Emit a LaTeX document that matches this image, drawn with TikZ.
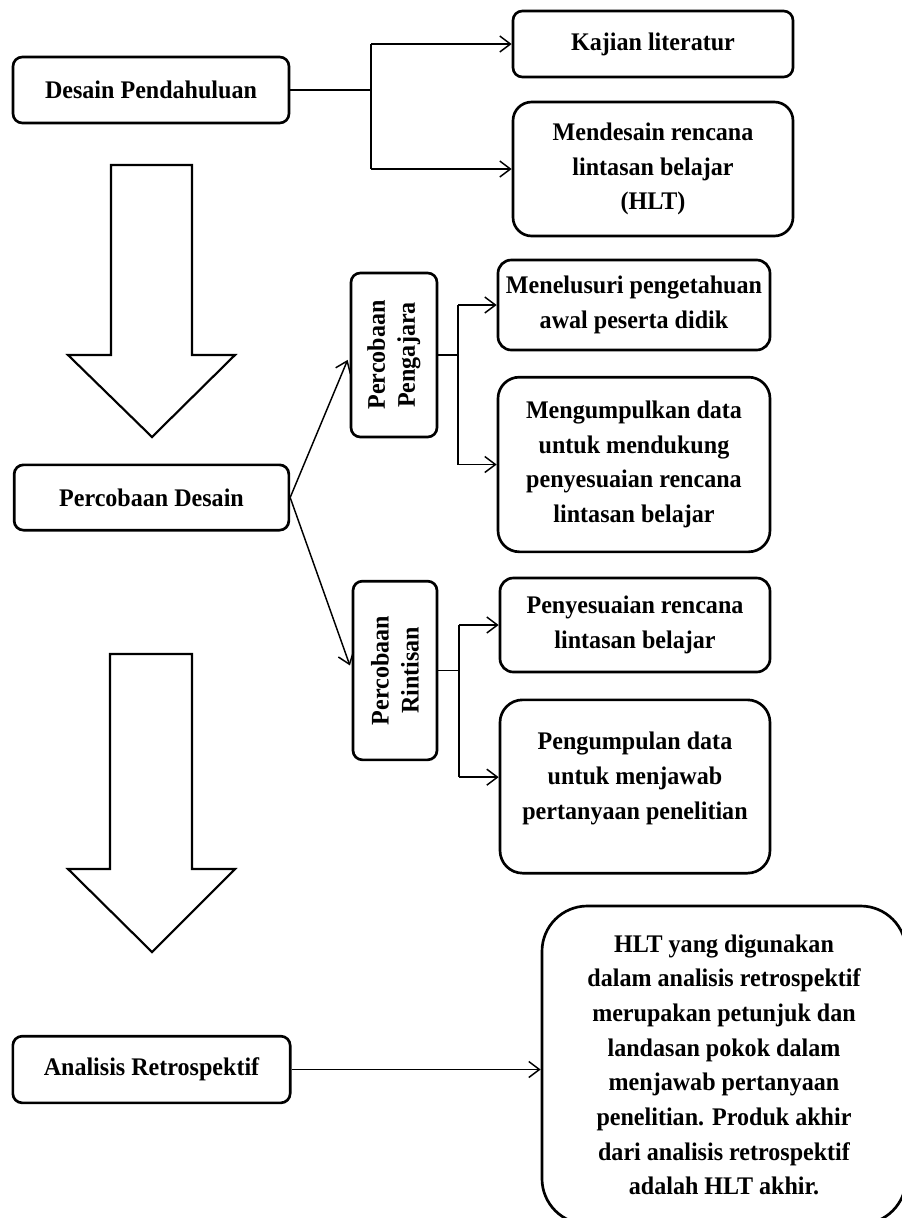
\documentclass[tikz,border=0pt]{standalone}
\usepackage{fontspec}
\setmainfont{Liberation Serif}[FakeStretch=0.95]
\usetikzlibrary{arrows.meta}
\begin{document}
\begin{tikzpicture}[x=0.75pt,y=-0.75pt,
 box/.style={draw, line width=2pt, rounded corners=7pt, align=center, inner sep=0pt,
   font=\fontsize{19}{26}\selectfont\bfseries},
 vbox/.style={box, rotate=90, font=\fontsize{19}{22.5}\selectfont\bfseries},
 conn/.style={line width=1.1pt},
 arr/.style={conn, -{Straight Barb[length=8pt,width=12pt,line width=1.1pt]}},
 bigarrow/.style={draw, line width=1.6pt, line join=miter, fill=white}]
\useasboundingbox (0,0) rectangle (901,1218);

% big hollow arrows
\draw[bigarrow] (111,165) -- (192,165) -- (192,355) -- (235,355) -- (152,437) -- (68,355) -- (111,355) -- cycle;
\draw[bigarrow] (110,654) -- (192,654) -- (192,869) -- (235,869) -- (152,952) -- (68,869) -- (110,869) -- cycle;

% left column
\node[box, minimum width=207pt, minimum height=49.5pt] (dp) at (151,90) {Desain Pendahuluan};
\node[box, minimum width=206pt, minimum height=49pt] (pd) at (151.5,497.5) {Percobaan Desain};
\node[box, minimum width=208pt, minimum height=50pt] (an) at (151.5,1069.5) {Analisis Retrospektif};

% top right
\node[box, minimum width=210pt, minimum height=49.5pt] (kl) at (653,44) {Kajian literatur};
\node[box, rounded corners=14pt, minimum width=210pt, minimum height=100.5pt] (md) at (653,169) {Mendesain rencana\\lintasan belajar\\(HLT)};

% vertical boxes
\node[vbox, minimum width=123pt, minimum height=64.5pt] (pp) at (394,355) {Percobaan\\Pengajara};
\node[vbox, minimum width=134pt, minimum height=63pt] (pr) at (395,670.5) {Percobaan\\Rintisan};

% middle right
\node[box, rounded corners=10pt, minimum width=204pt, minimum height=67.5pt] (mn) at (634,305) {Menelusuri pengetahuan\\awal peserta didik};
\node[box, rounded corners=16pt, minimum width=204pt, minimum height=131pt] (mg) at (634,464.5) {Mengumpulkan data\\untuk mendukung\\penyesuaian rencana\\lintasan belajar};
\node[box, rounded corners=10pt, minimum width=202.5pt, minimum height=70.5pt] (ps) at (635,625) {Penyesuaian rencana\\lintasan belajar};
\node[box, rounded corners=17pt, minimum width=202.5pt, minimum height=130pt] (pg) at (635,786.5) {Pengumpulan data\\untuk menjawab\\pertanyaan penelitian\\[-10pt]\mbox{}};

% bottom right
\node[box, rounded corners=34pt, minimum width=273pt, minimum height=238.5pt] (hlt) at (724,1065) {HLT yang digunakan\\dalam analisis retrospektif\\merupakan petunjuk dan\\landasan pokok dalam\\menjawab pertanyaan\\penelitian. Produk akhir\\dari analisis retrospektif\\adalah HLT akhir.};

% fork coordinates
\coordinate (f1) at (371,90);
\coordinate (f2) at (458,355);
\coordinate (f3) at (459,670.5);
\coordinate (pgin) at ([yshift=7pt]pg.west);

% connectors: Desain Pendahuluan
\draw[conn] (dp.east) -- (f1);
\draw[conn] (f1 |- kl.west) -- (f1 |- md.west);
\draw[arr] (f1 |- kl.west) -- (kl.west);
\draw[arr] (f1 |- md.west) -- (md.west);

% connectors: Percobaan Desain
\draw[arr, shorten >=4pt] (pd.east) -- (pp.north);
\draw[arr, shorten >=4pt] (pd.east) -- (pr.north);

% connectors: Percobaan Pengajara
\draw[conn] (pp.south) -- (f2);
\draw[conn] (f2 |- mn.west) -- (f2 |- mg.west);
\draw[arr] (f2 |- mn.west) -- (mn.west);
\draw[arr] (f2 |- mg.west) -- (mg.west);

% connectors: Percobaan Rintisan
\draw[conn] (pr.south) -- (f3);
\draw[conn] (f3 |- ps.west) -- (f3 |- pgin);
\draw[arr] (f3 |- ps.west) -- (ps.west);
\draw[arr] (f3 |- pgin) -- (pgin);

% connector: Analisis Retrospektif
\draw[arr] (an.east) -- (an.east -| hlt.west);
\end{tikzpicture}
\end{document}
